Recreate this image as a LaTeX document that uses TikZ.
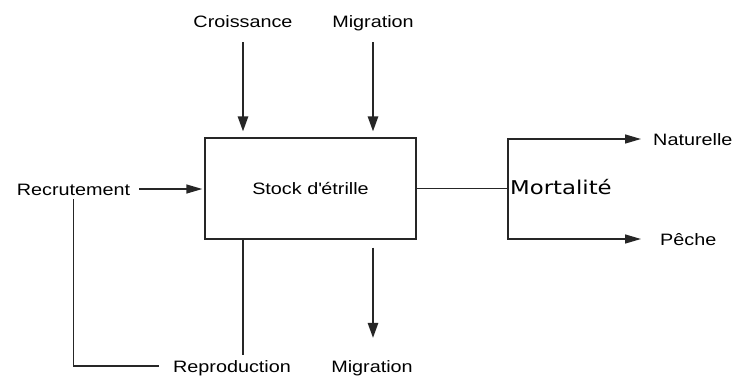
\documentclass[tikz,border=0pt]{standalone}
\usepackage{fontspec}
\setmainfont{Liberation Sans}[FakeStretch=1.2]
\newfontfamily\mortfont{DejaVu Sans}[FakeStretch=1.2]
\usetikzlibrary{arrows.meta}
\begin{document}
\begin{tikzpicture}[x=1pt,y=-1pt,
  lbl/.style={inner sep=0pt, text height=12pt, text depth=0pt, font=\fontsize{16.5}{18}\selectfont},
  ln/.style={line width=1.4pt, draw=black!85},
  varr/.style={ln, -{Triangle[length=15pt,width=10.5pt]}},
  harr/.style={ln, -{Triangle[length=16pt,width=9pt]}},
  stockbox/.style={draw=black!85, line width=1.4pt, minimum width=211pt, minimum height=101pt, inner sep=0pt, font=\fontsize{16.5}{18}\selectfont}
]
\useasboundingbox (0,0) rectangle (734,376);
\node[stockbox] (stock) at (310.5,188.5) {Stock d\textquotesingle étrille};
\node[lbl] (cro) at (243,21) {Croissance};
\node[lbl] (migT) at (373,21) {Migration};
\node[lbl] (rec) at (73.5,189) {Recrutement};
\node[lbl] (rep) at (232,366) {Reproduction};
\node[lbl] (migB) at (372,366) {Migration};
\coordinate (j) at (508,188.5);
\node[inner sep=0pt, text height=14pt, text depth=0pt, anchor=west, font=\mortfont\fontsize{19}{21}\selectfont] (mort) at (510,187.5) {Mortalité};
\node[lbl, anchor=west] (nat) at (653,139) {Naturelle};
\node[lbl, anchor=west] (pec) at (660,239) {Pêche};
% inflows
\draw[varr, shorten <=15pt, shorten >=6pt] (cro.south) -- (cro |- stock.north);
\draw[varr, shorten <=15pt, shorten >=6pt] (migT.south) -- (migT |- stock.north);
\draw[harr, shorten <=9pt, shorten >=2pt] (rec.east) -- (rec.east -| stock.west);
% outflow
\draw[varr, shorten <=8pt, shorten >=22pt] (migT |- stock.south) -- (migT |- migB.north);
% reproduction loop
\draw[ln, shorten <=4pt, shorten >=14pt] (rec.south) |- (rep.west);
\draw[ln, shorten >=5pt] (cro |- stock.south) -- (cro |- rep.north);
% mortality
\draw[ln] (stock.east) -- (j);
\draw[harr, shorten >=12pt] (j) |- (nat.west);
\draw[harr, shorten >=19pt] (j) |- (pec.west);
\end{tikzpicture}
\end{document}
